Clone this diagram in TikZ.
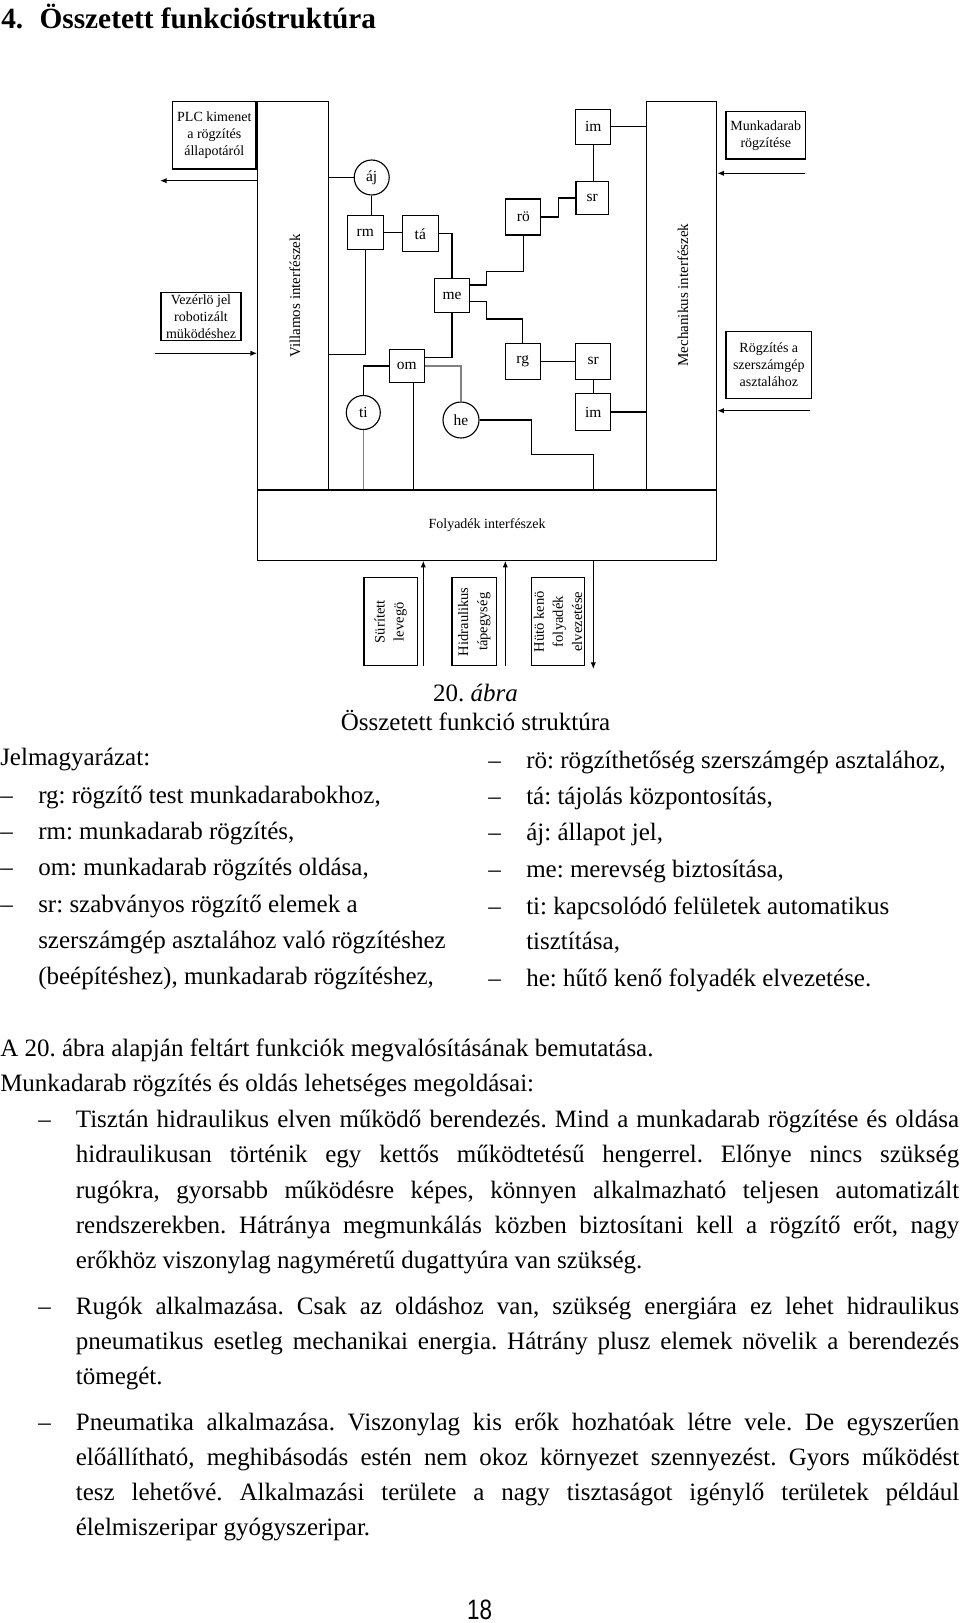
\documentclass[tikz,border=0pt]{standalone}
\usepackage{fontspec}
\setmainfont{Liberation Serif}
\newfontfamily\numf[FakeStretch=0.8]{Liberation Sans}
\usetikzlibrary{arrows.meta}
\frenchspacing
\newcommand\uu[1]{#1*0.75pt}
\newcommand\dfont{\fontsize{10.5pt}{12.8pt}\selectfont}
\newcommand\lfont{\fontsize{11.6pt}{13pt}\selectfont}
\newcommand\sfontb{\fontsize{10.9pt}{14.3pt}\selectfont}
\newcommand\vfont{\fontsize{11.25pt}{13pt}\selectfont}
\newcommand\bfont{\fontsize{18.75pt}{26.4pt}\selectfont}
\newcommand\tfont{\fontsize{22pt}{26pt}\selectfont\bfseries}
\newcommand\jl[1]{\makebox[662.5pt][s]{#1}}
\begin{document}
\begin{tikzpicture}[x=0.75pt,y=-0.75pt,
  ln/.style={line width=0.85pt},
  bx/.style={draw, line width=0.85pt, inner sep=0pt, font=\dfont, align=center},
  sbx/.style={bx, font=\lfont, minimum width=\uu{35}, minimum height=\uu{35}},
  cr/.style={circle, draw, line width=0.85pt, inner sep=0pt, minimum size=\uu{35}, font=\lfont},
  arr/.style={line width=0.85pt, -{Latex[length=5pt,width=4pt]}},
  txt/.style={anchor=base west, inner sep=0pt, font=\bfont},
]
\useasboundingbox (0,0) rectangle (960,1623);

% ---------- title ----------
\node[anchor=base west, inner sep=0pt, font=\tfont] (t4) at (1,28.5) {4.};
\node[anchor=base west, inner sep=0pt, font=\tfont] (title) at (39.3,28.5) {Összetett funkcióstruktúra};

% ---------- diagram ----------
\node[bx, minimum width=\uu{83.3}, minimum height=\uu{67.3}] (plc) at (214.3,135.3) {PLC kimenet\\a rögzítés\\állapotáról};
\node[bx, minimum width=\uu{80}, minimum height=\uu{48.4}] (vez) at (201,316.5) {Vezérlö jel\\robotizált\\müködéshez};
\node[bx, minimum width=\uu{79.7}, minimum height=\uu{47.3}] (mkd) at (765.8,135.3) {Munkadarab\\rögzítése};
\node[bx, minimum width=\uu{85.7}, minimum height=\uu{66.6}] (rsz) at (768.8,365) {Rögzítés a\\szerszámgép\\asztalához};

\node[bx, minimum width=\uu{70.6}, minimum height=\uu{388.3}] (vil) at (293,295.9) {};
\node[rotate=90, font=\vfont, inner sep=0pt] (vilL) at (295,296) {Villamos interfészek};
\node[bx, minimum width=\uu{70}, minimum height=\uu{388.3}] (mech) at (681.7,295.9) {};
\node[rotate=90, font=\vfont, inner sep=0pt] (mechL) at (683,295) {Mechanikus interfészek};
\node[bx, minimum width=\uu{459.4}, minimum height=\uu{70.3}] (fol) at (487.1,525.1) {Folyadék interfészek};

\node[cr] (aj) at (371.7,177.5) {áj};
\node[sbx, minimum width=\uu{36}, minimum height=\uu{34}] (rm) at (365.3,232.5) {rm};
\node[sbx, minimum width=\uu{36}, minimum height=\uu{36}] (ta) at (420.3,233.7) {tá};
\node[sbx, minimum height=\uu{34}] (me) at (452,295.6) {me};
\node[sbx, minimum height=\uu{33.4}] (om) at (406.8,366) {om};
\node[cr, minimum size=\uu{34}] (ti) at (363.3,412.5) {ti};
\node[cr, minimum size=\uu{36}] (he) at (461,420) {he};
\node[sbx, minimum height=\uu{36}] (ro) at (523.3,217) {rö};
\node[sbx, minimum width=\uu{32.7}, minimum height=\uu{32.6}] (sr1) at (592.3,198) {sr};
\node[sbx] (im1) at (593.3,126.7) {im};
\node[sbx, minimum height=\uu{36}] (rg) at (522.7,361.3) {rg};
\node[sbx, minimum height=\uu{36}] (sr2) at (593.3,361.3) {sr};
\node[sbx, minimum height=\uu{37.4}] (im2) at (593.3,412) {im};

\node[bx, font=\sfontb, rotate=90, minimum width=\uu{88}, minimum height=\uu{53.3}] (sur) at (390.7,621.7) {Sürített\\levegö};
\node[bx, font=\sfontb, rotate=90, minimum width=\uu{88}, minimum height=\uu{44.7}] (hid) at (474.3,621.7) {Hidraulikus\\tápegység};
\node[bx, font=\sfontb, rotate=90, minimum width=\uu{88}, minimum height=\uu{53.4}] (hut) at (558,621.7) {Hütö kenö\\folyadék\\elvezetése};

% connectors
\draw[ln] (aj.west -| vil.east) -- (aj.west);
\draw[ln] (aj.south) -- (aj.south |- rm.north);
\draw[ln] (rm.east) -- (rm.east -| ta.west);
\draw[ln] (ta.east) -| (me.north);
\draw[ln] (rm.south) |- (vil.east |- 0,354.3);
\draw[ln] (me.south) |- (om.east |- 0,357.7);
\draw[ln] (om.west) -| (ti.north);
\draw[ln, gray] (ti.south) -- (ti.south |- fol.north);
\draw[ln] (om.south -| 413.3,0) -- (413.3,0 |- fol.north);
\draw[ln, gray] (om.east) -| (he.north);
\draw[ln] (he.east) -| (531.7,454.3) -| (593.3,0 |- fol.north);
\draw[ln] (me.east |- 0,285) -| (486.7,271.7) -| (ro.south);
\draw[ln] (me.east |- 0,301.7) -| (486.7,319) -| (rg.north);
\draw[ln] (ro.east) -| (558.7,0 |- sr1.west) -- (sr1.west);
\draw[ln] (im1.south) -- (im1.south |- sr1.north);
\draw[ln] (im1.east) -- (im1.east -| mech.west);
\draw[ln] (rg.east) -- (sr2.west);
\draw[ln] (sr2.south) -- (sr2.south |- im2.north);
\draw[ln] (im2.east) -- (im2.east -| mech.west);

\coordinate (plcE) at (160,180.7);
\draw[arr] (plcE -| vil.west) -- (plcE);
\coordinate (vezS) at (155,353.3);
\draw[arr] (vezS) -- (vezS -| vil.west);
\coordinate (mkS) at (805,173.3);
\draw[arr] (mkS) -- (mkS -| mech.east);
\coordinate (rgS) at (810,410.7);
\draw[arr] (rgS) -- (rgS -| mech.east);
\coordinate (b1) at (423.3,665.7);
\draw[arr] (b1) -- (b1 |- fol.south);
\coordinate (b2) at (505.3,665.7);
\draw[arr] (b2) -- (b2 |- fol.south);
\coordinate (b3) at (593.3,669);
\draw[arr] (b3 |- fol.south) -- (b3);

% ---------- caption ----------
\node[anchor=base, inner sep=0pt, font=\bfont] (cap1) at (475.5,701.7) {20. \textit{ábra}};
\node[anchor=base, inner sep=0pt, font=\bfont] (cap2) at (475.5,730) {Összetett funkció struktúra};

% ---------- legend ----------
\node[txt] (lg0) at (0,765.7) {Jelmagyarázat:};
\node[txt] (ld1) at (0,803) {–};
\node[txt] (lg1) at (38,803) {rg: rögzítő test munkadarabokhoz,};
\node[txt] (ld2) at (0,839.3) {–};
\node[txt] (lg2) at (38,839.3) {rm: munkadarab rögzítés,};
\node[txt] (ld3) at (0,875.7) {–};
\node[txt] (lg3) at (38,875.7) {om: munkadarab rögzítés oldása,};
\node[txt] (ld4) at (0,912.3) {–};
\node[txt] (lg4) at (38,912.3) {sr: szabványos rögzítő elemek a};
\node[txt] (lg5) at (38,948.3) {szerszámgép asztalához való rögzítéshez};
\node[txt] (lg6) at (38,984.3) {(beépítéshez), munkadarab rögzítéshez,};

\node[txt] (rd1) at (488,768) {–};
\node[txt] (rl1) at (526,768) {rö: rögzíthetőség szerszámgép asztalához,};
\node[txt] (rd2) at (488,804) {–};
\node[txt] (rl2) at (526,804) {tá: tájolás központosítás,};
\node[txt] (rd3) at (488,840.7) {–};
\node[txt] (rl3) at (526,840.7) {áj: állapot jel,};
\node[txt] (rd4) at (488,877) {–};
\node[txt] (rl4) at (526,877) {me: merevség biztosítása,};
\node[txt] (rd5) at (488,914.5) {–};
\node[txt] (rl5) at (526,914.5) {ti: kapcsolódó felületek automatikus};
\node[txt] (rl6) at (526,949) {tisztítása,};
\node[txt] (rd7) at (488,986) {–};
\node[txt] (rl7) at (526,986) {he: hűtő kenő folyadék elvezetése.};

% ---------- body text ----------
\node[txt] (p0) at (0,1056) {A 20. ábra alapján feltárt funkciók megvalósításának bemutatása.};
\node[txt] (p00) at (0,1091.3) {Munkadarab rögzítés és oldás lehetséges megoldásai:};

\node[txt] (pd1) at (38,1127.6) {–};
\node[txt] (p11) at (75.6,1127.6) {\jl{Tisztán hidraulikus elven működő berendezés. Mind a munkadarab rögzítése és oldása}};
\node[txt] (p12) at (75.6,1162.8) {\jl{hidraulikusan történik egy kettős működtetésű hengerrel. Előnye nincs szükség}};
\node[txt] (p13) at (75.6,1198) {\jl{rugókra, gyorsabb működésre képes, könnyen alkalmazható teljesen automatizált}};
\node[txt] (p14) at (75.6,1233.2) {\jl{rendszerekben. Hátránya megmunkálás közben biztosítani kell a rögzítő erőt, nagy}};
\node[txt] (p15) at (75.6,1268.4) {erőkhöz viszonylag nagyméretű dugattyúra van szükség.};

\node[txt] (pd2) at (38,1314) {–};
\node[txt] (p21) at (75.6,1314) {\jl{Rugók alkalmazása. Csak az oldáshoz van, szükség energiára ez lehet hidraulikus}};
\node[txt] (p22) at (75.6,1349.2) {\jl{pneumatikus esetleg mechanikai energia. Hátrány plusz elemek növelik a berendezés}};
\node[txt] (p23) at (75.6,1384.4) {tömegét.};

\node[txt] (pd3) at (38,1430) {–};
\node[txt] (p31) at (75.6,1430) {\jl{Pneumatika alkalmazása. Viszonylag kis erők hozhatóak létre vele. De egyszerűen}};
\node[txt] (p32) at (75.6,1465.2) {\jl{előállítható, meghibásodás estén nem okoz környezet szennyezést. Gyors működést}};
\node[txt] (p33) at (75.6,1500.4) {\jl{tesz lehetővé. Alkalmazási területe a nagy tisztaságot igénylő területek például}};
\node[txt] (p34) at (75.6,1535.6) {élelmiszeripar gyógyszeripar.};

\node[anchor=base, inner sep=0pt, font={\numf\fontsize{21pt}{24pt}\selectfont}] (pg) at (479.5,1619) {18};
\end{tikzpicture}
\end{document}
